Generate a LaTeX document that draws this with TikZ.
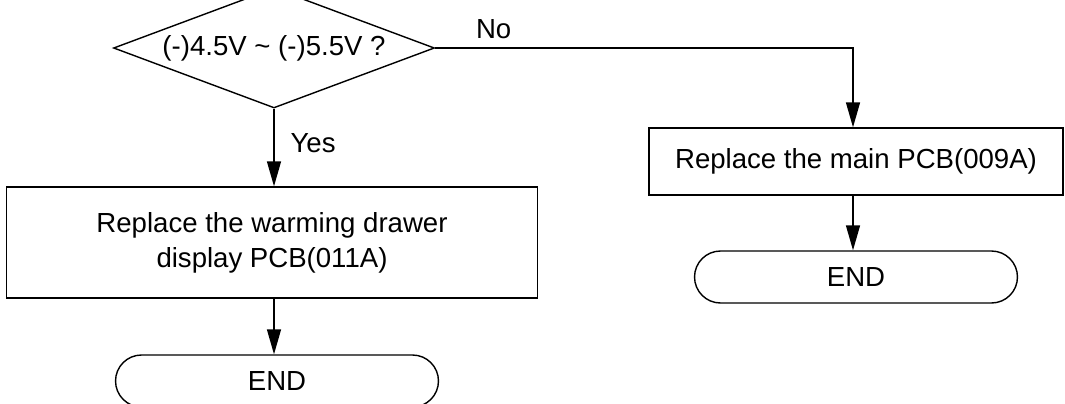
\documentclass[tikz,border=0pt]{standalone}
\usepackage{fontspec}
\setmainfont{Liberation Sans}
\usepackage{tikz}
\usetikzlibrary{shapes.geometric, arrows.meta, positioning}

\begin{document}
\begin{tikzpicture}[x=0.02cm, y=-0.02cm,
    line width=0.8pt,
    every node/.style={font=\fontsize{15.7}{19.9}\selectfont},
    decision/.style={draw, diamond, aspect=2.675, inner sep=0pt, minimum width=6.42cm, minimum height=2.4cm},
    box/.style={draw, rectangle, align=center},
    terminal/.style={draw, rectangle, rounded corners=0.52cm, minimum width=6.46cm, minimum height=1.04cm},
    arrow/.style={draw, -{Triangle[length=0.5cm, width=0.28cm]}}
]
    \useasboundingbox (0,0) rectangle (1065,403);

    % Check
    \node[decision] (chk) at (274,48) {(-)4.5V \textasciitilde{} (-)5.5V ?};

    % Yes side
    \node[box, minimum width=10.62cm, minimum height=2.22cm] (dispPCB) at (272,242.5)
        {Replace the warming drawer\\display PCB(011A)};
    \node[terminal] (endA) at (277,381) {END};

    % No side
    \node[box, minimum width=8.28cm, minimum height=1.34cm] (mainPCB) at (856,161.5)
        {Replace the main PCB(009A)};
    \node[terminal] (endB) at (856,277) {END};

    % Flow
    \draw[arrow] (chk.south) -- node[right, pos=0.45, xshift=0.2cm] {Yes} (chk.south |- dispPCB.north);
    \draw[arrow] (chk.south |- dispPCB.south) -- (chk.south |- endA.north);
    \draw[arrow] (chk.east) -| node[above, pos=0.07, yshift=0.05cm] {No} ([xshift=-0.06cm]mainPCB.north);
    \draw[arrow] ([xshift=-0.06cm]mainPCB.south) -- ([xshift=-0.06cm]endB.north);

\end{tikzpicture}
\end{document}
